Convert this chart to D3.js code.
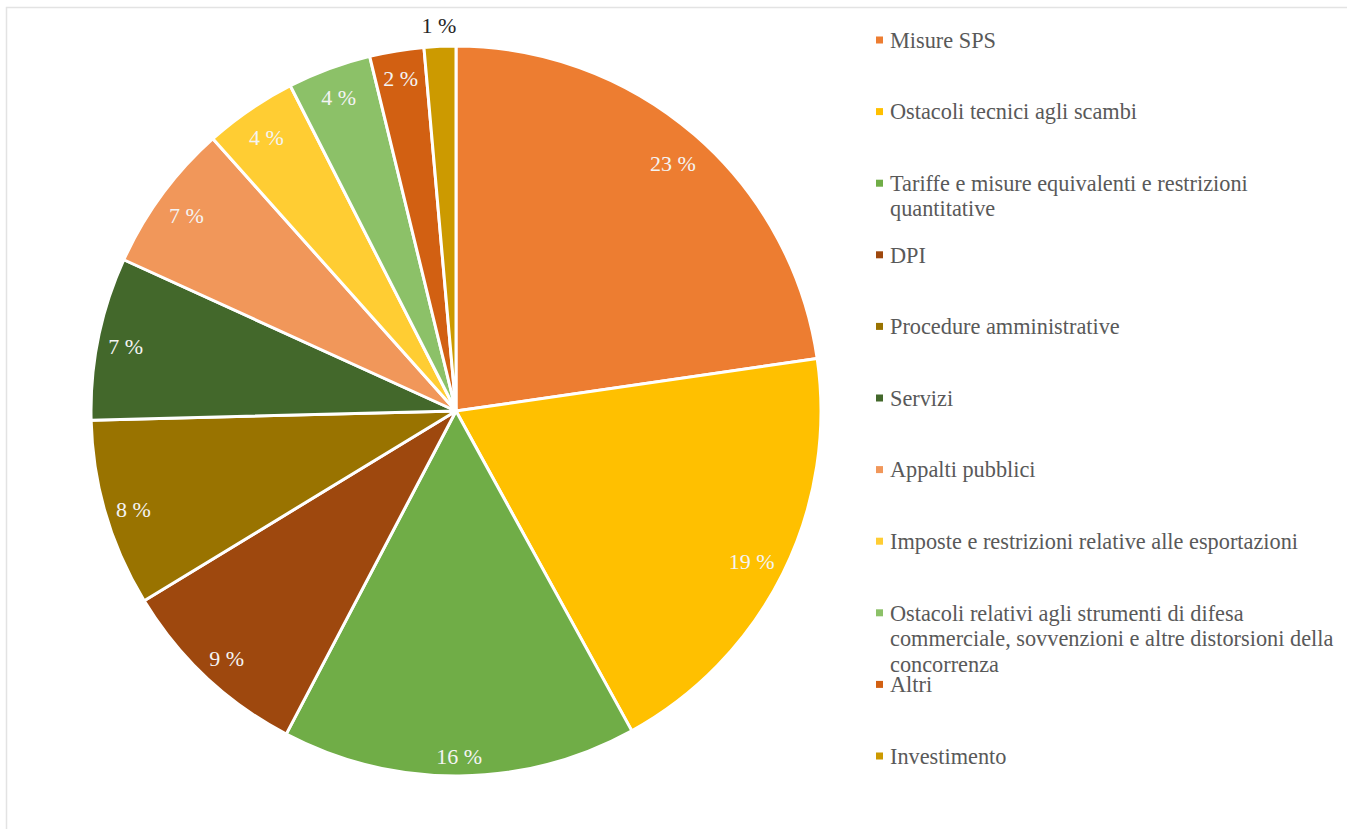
<!DOCTYPE html>
<html>
<head>
<meta charset="utf-8">
<script src="https://cdn.jsdelivr.net/npm/d3@7"></script>
<style>
  body { margin: 0; background: #fff; }
  svg { display: block; }
</style>
</head>
<body>
<div class="chart"></div>
<script>
const svgWidth = 1347
const svgHeight = 829

// categories and shares (percent)
const categories = [
  "Misure SPS",
  "Ostacoli tecnici agli scambi",
  "Tariffe e misure equivalenti e restrizioni quantitative",
  "DPI",
  "Procedure amministrative",
  "Servizi",
  "Appalti pubblici",
  "Imposte e restrizioni relative alle esportazioni",
  "Ostacoli relativi agli strumenti di difesa commerciale, sovvenzioni e altre distorsioni della concorrenza",
  "Altri",
  "Investimento"
]
const shares = [22.7, 19.3, 15.7, 8.6, 8.3, 7.2, 6.6, 4.1, 3.7, 2.4, 1.4]
const colors = [
  "#ED7D31", "#FFC000", "#70AD47", "#9E480E", "#997300", "#43682B",
  "#F1975A", "#FFCD33", "#8CC168", "#D26012", "#CC9A00"
]

let data = categories.map((c, i) => ({ name: c, value: shares[i], color: colors[i] }))

let svg = d3
  .select(".chart")
  .append("svg")
  .attr("width", svgWidth)
  .attr("height", svgHeight)

// light frame around the chart area
svg.append("rect")
  .attr("x", 6.5)
  .attr("y", 7.5)
  .attr("width", svgWidth + 20)
  .attr("height", svgHeight + 20)
  .attr("fill", "none")
  .attr("stroke", "#e3e3e3")
  .attr("stroke-width", 1.5)

const cx = 456
const cy = 411
const radius = 365
const fontFamily = "'Liberation Serif', 'Times New Roman', serif"

let pie = d3.pie().sort(null).value(d => d.value)
let arcs = pie(data)

let arc = d3.arc().innerRadius(0).outerRadius(radius)
let outerArc = d3.arc().innerRadius(radius + 21).outerRadius(radius + 21)

let pieGroup = svg.append("g")
  .attr("transform", `translate(${cx}, ${cy})`)

pieGroup.selectAll("path")
  .data(arcs)
  .enter()
  .append("path")
  .attr("d", arc)
  .attr("fill", d => d.data.color)
  .attr("stroke", "#fff")
  .attr("stroke-width", 3)
  .attr("stroke-linejoin", "round")

// percent labels at the inside end; the smallest slice gets its label outside
let labels = pieGroup.selectAll(".pct")
  .data(arcs)
  .enter()
  .append("text")
  .classed("pct", true)
  .attr("text-anchor", "middle")
  .attr("dy", "0.35em")
  .attr("font-family", fontFamily)
  .attr("font-size", "22px")
  .attr("fill", d => d.data.value < 2 ? "#262626" : "#f4f4f4")
  .text(d => Math.round(d.data.value) + " %")

labels.attr("transform", function(d) {
  if (d.data.value < 2) {
    let p = outerArc.centroid(d)
    return `translate(${p[0]}, ${p[1]})`
  }
  let a = (d.startAngle + d.endAngle) / 2
  let w = this.getComputedTextLength()
  let h = 28
  let r = radius - 8 - (Math.abs(Math.sin(a)) * w / 2 + Math.abs(Math.cos(a)) * h / 2)
  return `translate(${Math.sin(a) * r}, ${-Math.cos(a) * r + 3})`
})

// legend
const legendX = 876
const legendTop = 40
const legendStep = 71.6
const lineHeight = 25.5
const maxTextWidth = 455

let legend = svg.append("g")

let rows = legend.selectAll("g")
  .data(data)
  .enter()
  .append("g")
  .attr("transform", (d, i) => `translate(${legendX}, ${legendTop + i * legendStep})`)

rows.append("rect")
  .attr("x", 0)
  .attr("y", -3.5)
  .attr("width", 7)
  .attr("height", 7)
  .attr("fill", d => d.color)

rows.each(function(d) {
  let t = d3.select(this).append("text")
    .attr("font-family", fontFamily)
    .attr("font-size", "22.3px")
    .attr("fill", "#595959")
  let words = d.name.split(" ")
  let line = []
  let n = 0
  let tspan = t.append("tspan").attr("x", 14).attr("y", 0).attr("dy", "0.35em")
  words.forEach(w => {
    line.push(w)
    tspan.text(line.join(" "))
    if (tspan.node().getComputedTextLength() > maxTextWidth && line.length > 1) {
      line.pop()
      tspan.text(line.join(" "))
      line = [w]
      n++
      tspan = t.append("tspan").attr("x", 14).attr("y", n * lineHeight).attr("dy", "0.35em").text(w)
    }
  })
})
</script>
</body>
</html>
